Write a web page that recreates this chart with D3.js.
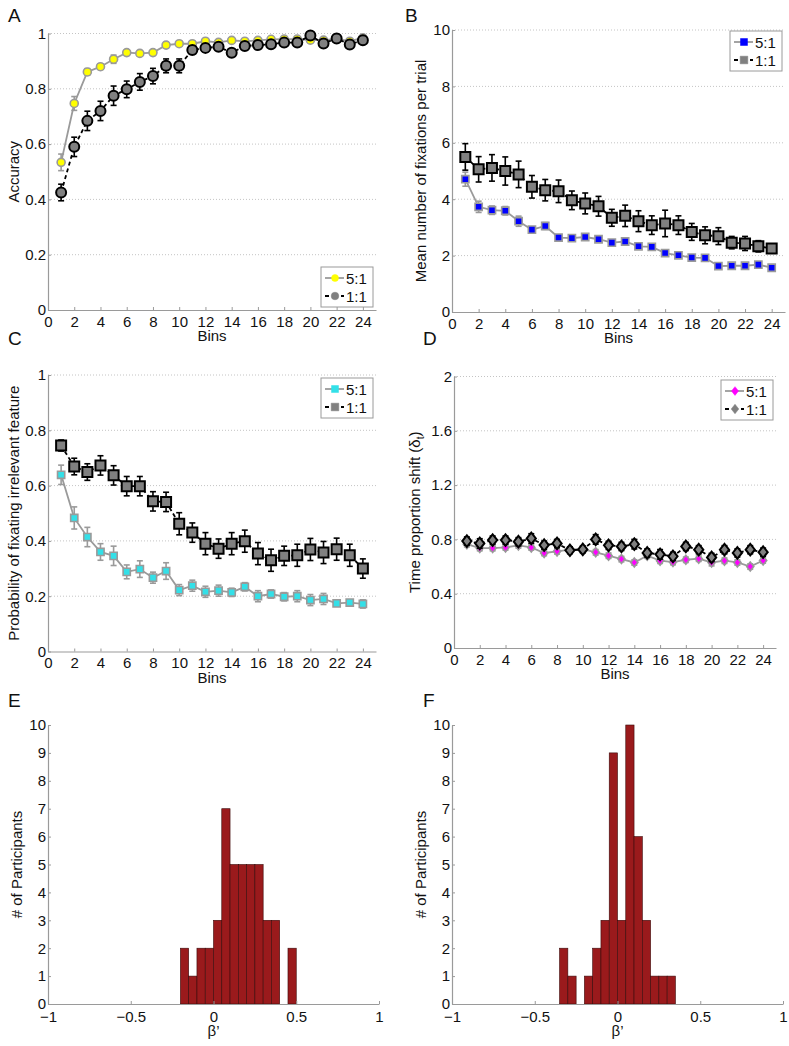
<!DOCTYPE html>
<html><head><meta charset="utf-8">
<script src="https://cdn.jsdelivr.net/npm/d3@7"></script>
<style>
body{margin:0;background:#fff}
svg{display:block}
text{font-family:"Liberation Sans",Arial,Helvetica,sans-serif;fill:#111}
</style>
</head><body>
<svg id="c" width="789" height="1046"></svg>
<script>
// ---------------- DATA ----------------
const bins = [1,2,3,4,5,6,7,8,9,10,11,12,13,14,15,16,17,18,19,20,21,22,23,24];
const binTicks = [0,2,4,6,8,10,12,14,16,18,20,22,24];
const seriesNames = ["5:1", "1:1"];

// Panel A: Accuracy
const accTicks = [0,0.2,0.4,0.6,0.8,1];
const acc51 = [0.534,0.747,0.861,0.88,0.907,0.931,0.928,0.931,0.958,0.963,0.963,0.972,0.968,0.975,0.972,0.975,0.979,0.98,0.98,0.976,0.976,0.98,0.972,0.984];
const acc51Err = [0.03,0.025,0.012,0.01,0.015,0.01,0.01,0.01,0.01,0.008,0.008,0.008,0.008,0.007,0.007,0.007,0.006,0.006,0.006,0.006,0.006,0.006,0.006,0.005];
const acc11 = [0.425,0.59,0.684,0.72,0.775,0.798,0.825,0.846,0.883,0.883,0.94,0.948,0.952,0.93,0.955,0.958,0.961,0.967,0.967,0.993,0.964,0.982,0.96,0.976];
const acc11Err = [0.03,0.035,0.035,0.035,0.035,0.03,0.03,0.028,0.025,0.025,0.015,0.015,0.01,0.01,0.01,0.01,0.008,0.008,0.008,0.005,0.008,0.006,0.008,0.006];

// Panel B: Mean number of fixations per trial
const fixTicks = [0,2,4,6,8,10];
const fix51 = [4.71,3.73,3.61,3.59,3.22,2.92,3.05,2.64,2.62,2.66,2.58,2.46,2.5,2.33,2.31,2.09,2.01,1.93,1.92,1.63,1.64,1.64,1.68,1.57];
const fix51Err = [0.25,0.2,0.15,0.15,0.18,0.1,0.12,0.08,0.06,0.06,0.06,0.06,0.06,0.06,0.06,0.05,0.05,0.05,0.05,0.05,0.04,0.04,0.04,0.04];
const fix11 = [5.5,5.06,5.11,5.0,4.88,4.44,4.32,4.28,3.96,3.85,3.75,3.34,3.41,3.22,3.08,3.14,3.08,2.84,2.72,2.69,2.46,2.43,2.33,2.25];
const fix11Err = [0.47,0.45,0.47,0.5,0.47,0.4,0.38,0.4,0.33,0.37,0.35,0.3,0.38,0.37,0.33,0.47,0.33,0.3,0.3,0.3,0.22,0.25,0.2,0.15];

// Panel C: Probability of fixating irrelevant feature
const irrTicks = [0,0.2,0.4,0.6,0.8,1];
const irr51 = [0.639,0.483,0.414,0.36,0.346,0.288,0.298,0.267,0.291,0.222,0.238,0.216,0.22,0.214,0.234,0.2,0.208,0.198,0.2,0.186,0.19,0.174,0.177,0.172];
const irr51Err = [0.035,0.04,0.035,0.03,0.035,0.025,0.03,0.02,0.03,0.02,0.02,0.02,0.02,0.015,0.015,0.02,0.015,0.015,0.02,0.02,0.02,0.01,0.01,0.015];
const irr11 = [0.745,0.669,0.649,0.673,0.637,0.598,0.598,0.543,0.541,0.462,0.43,0.39,0.372,0.39,0.399,0.354,0.33,0.346,0.348,0.369,0.358,0.37,0.348,0.3];
const irr11Err = [0.02,0.03,0.03,0.035,0.035,0.035,0.035,0.035,0.035,0.04,0.035,0.04,0.035,0.04,0.04,0.04,0.04,0.035,0.04,0.04,0.04,0.04,0.04,0.035];

// Panel D: Time proportion shift
const tpsTicks = [0,0.4,0.8,1.2,1.6,2];
const tps51 = [0.765,0.736,0.736,0.741,0.756,0.741,0.7,0.712,0.724,0.729,0.705,0.68,0.655,0.63,0.68,0.643,0.633,0.65,0.658,0.63,0.643,0.63,0.6,0.645];
const tps51Err = [0.02,0.02,0.02,0.02,0.02,0.02,0.02,0.02,0.02,0.02,0.02,0.02,0.02,0.02,0.02,0.02,0.02,0.02,0.02,0.025,0.02,0.02,0.02,0.02];
const tps11 = [0.788,0.77,0.795,0.795,0.783,0.807,0.758,0.77,0.72,0.726,0.8,0.756,0.748,0.765,0.7,0.69,0.675,0.748,0.724,0.667,0.724,0.7,0.724,0.706];
const tps11Err = [0.03,0.035,0.03,0.03,0.03,0.035,0.03,0.03,0.025,0.025,0.035,0.03,0.03,0.035,0.03,0.035,0.03,0.03,0.03,0.03,0.03,0.03,0.03,0.03];

// Panels E/F: histograms of beta'
const betaTicks = [-1,-0.5,0,0.5,1];
const betaTickLabels = ["\u22121","\u22120.5","0","0.5","1"];
const countTicks = [0,1,2,3,4,5,6,7,8,9,10];
const binWidth = 0.05;
const histEStarts = [-0.2,-0.15,-0.1,-0.05,0,0.05,0.1,0.15,0.2,0.25,0.3,0.35,0.45];
const histECounts = [2,1,2,2,3,7,5,5,5,5,3,3,2];
const histFStarts = [-0.35,-0.3,-0.2,-0.15,-0.1,-0.05,0,0.05,0.1,0.15,0.2,0.25,0.3];
const histFCounts = [2,1,1,2,3,9,3,10,6,3,1,1,1];

// ---------------- DRAWING ----------------
const svg = d3.select('#c');
const FONT = '"Liberation Sans",Arial,Helvetica,sans-serif';
const AXC = '#9a9a9a';

function styleAxis(g){
  g.attr('font-size',15).attr('font-family',FONT);
  g.select('.domain').attr('stroke',AXC).attr('stroke-width',1.2);
  g.selectAll('.tick line').attr('stroke',AXC);
  g.selectAll('.tick text').attr('fill','#111');
}

function marker(shape, s){
  if(shape==='circle') return d3.symbol().type(d3.symbolCircle).size(Math.PI*s*s)();
  if(shape==='square') return `M${-s},${-s}H${s}V${s}H${-s}Z`;
  return `M0,${-s*1.25}L${s},0L0,${s*1.25}L${-s},0Z`;
}

function panelLetter(t,x,y){
  svg.append('text').attr('x',x).attr('y',y).attr('font-size',19).text(t);
}

function linePanel(p){
  const x = d3.scaleLinear().domain([0,25]).range([p.left,p.right]);
  const y = d3.scaleLinear().domain([p.yTicks[0],p.yTicks[p.yTicks.length-1]]).range([p.bottom,p.top]);
  const g = svg.append('g');
  // grid
  g.selectAll('line.grid').data(p.yTicks.slice(1)).join('line').attr('class','grid')
    .attr('x1',p.left).attr('x2',p.right).attr('y1',d=>y(d)).attr('y2',d=>y(d))
    .attr('stroke','#c4c4c4').attr('stroke-width',1).attr('stroke-dasharray','1,2');
  const ax = g.append('g').attr('transform',`translate(0,${p.bottom})`)
    .call(d3.axisBottom(x).tickValues(binTicks).tickSizeInner(-3).tickSizeOuter(0).tickPadding(6));
  styleAxis(ax);
  const ay = g.append('g').attr('transform',`translate(${p.left},0)`)
    .call(d3.axisLeft(y).tickValues(p.yTicks).tickFormat(d=>String(d)).tickSizeInner(-3).tickSizeOuter(0).tickPadding(2));
  styleAxis(ay);
  // labels
  g.append('text').attr('x',(p.left+p.right)/2).attr('y',p.bottom+31).attr('text-anchor','middle').attr('font-size',15).text('Bins');
  const yl = g.append('text').attr('transform',`translate(${p.ylx},${(p.top+p.bottom)/2}) rotate(-90)`)
    .attr('text-anchor','middle').attr('font-size',15);
  p.ylab(yl);

  const series = [
    {vals:p.s51, err:p.e51, fill:p.col, stroke:'#9a9a9a', lw:1.8, dash:null, ecol:'#9a9a9a', r:p.r51, sw:1.6},
    {vals:p.s11, err:p.e11, fill:'#808080', stroke:'#000', lw:1.8, dash:'4,3', ecol:'#000', r:p.r11, sw:2}
  ];
  series.forEach(s=>{
    const pts = bins.map((b,i)=>({x:b,v:s.vals[i],e:s.err[i]}));
    g.append('path').datum(pts).attr('fill','none').attr('stroke',s.stroke).attr('stroke-width',s.lw)
      .attr('stroke-dasharray',s.dash)
      .attr('d',d3.line().x(d=>x(d.x)).y(d=>y(d.v)));
    const eb = g.append('g').attr('stroke',s.ecol).attr('stroke-width',1.6);
    eb.selectAll('line.v').data(pts).join('line').attr('x1',d=>x(d.x)).attr('x2',d=>x(d.x))
      .attr('y1',d=>y(d.v-d.e)).attr('y2',d=>y(d.v+d.e));
    eb.selectAll('line.t').data(pts).join('line').attr('x1',d=>x(d.x)-3).attr('x2',d=>x(d.x)+3)
      .attr('y1',d=>y(d.v+d.e)).attr('y2',d=>y(d.v+d.e));
    eb.selectAll('line.b').data(pts).join('line').attr('x1',d=>x(d.x)-3).attr('x2',d=>x(d.x)+3)
      .attr('y1',d=>y(d.v-d.e)).attr('y2',d=>y(d.v-d.e));
    g.selectAll(null).data(pts).join('path').attr('transform',d=>`translate(${x(d.x)},${y(d.v)})`)
      .attr('d',marker(p.shape,s.r)).attr('fill',s.fill).attr('stroke',s.stroke).attr('stroke-width',s.sw);
  });
  // legend
  const L = p.leg;
  const lg = g.append('g').attr('transform',`translate(${L[0]},${L[1]})`);
  lg.append('rect').attr('width',52).attr('height',40).attr('fill','#fff').attr('stroke','#9a9a9a').attr('stroke-width',1);
  series.forEach((s,i)=>{
    const yy = 11 + i*18;
    lg.append('line').attr('x1',4).attr('x2',23).attr('y1',yy).attr('y2',yy)
      .attr('stroke',i===0?'#9a9a9a':'#000').attr('stroke-width',1.8).attr('stroke-dasharray',i===0?null:'4,4');
    lg.append('path').attr('transform',`translate(14,${yy})`).attr('d',marker(p.shape,i===0?3.5:3.8))
      .attr('fill',i===0?p.col:'#808080').attr('stroke',i===0?p.col:'#808080').attr('stroke-width',0.5);
    lg.append('text').attr('x',25).attr('y',yy+5.5).attr('font-size',15).text(seriesNames[i]);
  });
}

function histPanel(p){
  const x = d3.scaleLinear().domain([-1,1]).range([p.left,p.right]);
  const y = d3.scaleLinear().domain([0,10]).range([p.bottom,p.top]);
  const g = svg.append('g');
  g.selectAll('rect').data(p.starts.map((s,i)=>({s,c:p.counts[i]}))).join('rect')
    .attr('x',d=>x(d.s)).attr('width',d=>x(d.s+binWidth)-x(d.s))
    .attr('y',d=>y(d.c)).attr('height',d=>y(0)-y(d.c))
    .attr('fill','#9a1a1c').attr('stroke','#3a0a0a').attr('stroke-width',0.6);
  const ax = g.append('g').attr('transform',`translate(0,${p.bottom})`)
    .call(d3.axisBottom(x).tickValues(betaTicks).tickFormat((d,i)=>betaTickLabels[i]).tickSizeInner(-3).tickSizeOuter(0).tickPadding(7));
  styleAxis(ax);
  const ay = g.append('g').attr('transform',`translate(${p.left},0)`)
    .call(d3.axisLeft(y).tickValues(countTicks).tickSizeInner(-3).tickSizeOuter(0).tickPadding(2));
  styleAxis(ay);
  g.append('text').attr('x',(p.left+p.right)/2).attr('y',p.bottom+32).attr('text-anchor','middle').attr('font-size',15).text('\u03B2\u2019');
  g.append('text').attr('transform',`translate(${p.ylx},${(p.top+p.bottom)/2}) rotate(-90)`)
    .attr('text-anchor','middle').attr('font-size',15).text('# of Participants');
}

linePanel({left:48,right:376,top:33.5,bottom:310,yTicks:accTicks,s51:acc51,e51:acc51Err,s11:acc11,e11:acc11Err,
  col:'#ffff00',shape:'circle',r51:4,r11:5,ylx:19,leg:[321,267],
  ylab:t=>t.text('Accuracy')});
linePanel({left:452,right:785,top:30,bottom:312,yTicks:fixTicks,s51:fix51,e51:fix51Err,s11:fix11,e11:fix11Err,
  col:'#0000ff',shape:'square',r51:3.6,r11:5,ylx:426,leg:[730,31],
  ylab:t=>t.text('Mean number of fixations per trial')});
linePanel({left:48,right:376,top:375,bottom:651.5,yTicks:irrTicks,s51:irr51,e51:irr51Err,s11:irr11,e11:irr11Err,
  col:'#33e0e8',shape:'square',r51:3.6,r11:5,ylx:19,leg:[321,378],
  ylab:t=>t.text('Probability of fixating irrelevant feature')});
linePanel({left:454,right:776,top:376.5,bottom:648,yTicks:tpsTicks,s51:tps51,e51:tps51Err,s11:tps11,e11:tps11Err,
  col:'#ff00ff',shape:'diamond',r51:3.6,r11:4.6,ylx:420,leg:[721,380],
  ylab:t=>{t.text('Time proportion shift (\u03B4'); t.append('tspan').attr('font-size',10).attr('dy',4).text('t'); t.append('tspan').attr('dy',-4).text(')');}});

histPanel({left:48,right:379,top:725,bottom:1004,starts:histEStarts,counts:histECounts,ylx:22});
histPanel({left:452,right:783,top:725,bottom:1004,starts:histFStarts,counts:histFCounts,ylx:426});

panelLetter('A',8,22); panelLetter('B',405,22);
panelLetter('C',8,345); panelLetter('D',423,345);
panelLetter('E',8,707); panelLetter('F',423,707);
</script>
</body></html>
